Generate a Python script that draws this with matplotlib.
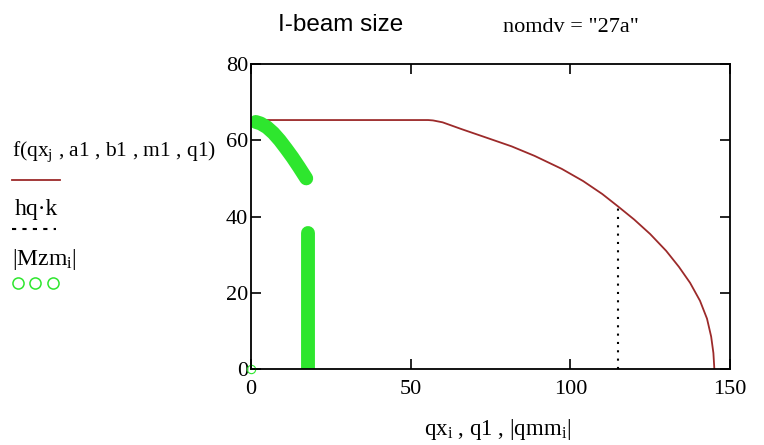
import numpy as np
import matplotlib
matplotlib.use("Agg")
import matplotlib.pyplot as plt

plt.rcParams['font.family'] = ['Liberation Serif', 'DejaVu Serif']
plt.rcParams['mathtext.fontset'] = 'custom'
plt.rcParams['mathtext.rm'] = 'Liberation Serif'
plt.rcParams['mathtext.it'] = 'Liberation Serif'

# f(qx_j, a1, b1, m1, q1) - red curve
f_x = [0, 20, 40, 50, 55.5, 57, 60, 63, 66, 74, 81.6, 88.8, 97.3, 104, 110, 115, 120,
       125, 130, 134, 137.5, 140.6, 142.8, 144.1, 144.8, 145.1]
f_y = [65.3, 65.3, 65.3, 65.3, 65.3, 65.2, 64.7, 63.8, 62.9, 60.6, 58.4, 55.9, 52.5,
       49.3, 45.9, 42.6, 39.2, 35.4, 31.0, 26.8, 22.6, 17.9, 13.2, 8.5, 4.2, 0.0]

# hq*k - dotted vertical
hq_x = [115, 115]
hq_y = [0, 42.6]

# |Mzm_i| vs |qmm_i| - green points
arc_q = [1.5, 3, 5, 7, 9, 11, 13, 15, 17.3]
arc_M = [64.8, 64.4, 63.4, 61.9, 60.0, 57.8, 55.5, 53.0, 50.0]
bar_q = [17.9, 17.9]
bar_M = [0.0, 35.6]
orig_q = [0]
orig_M = [0]

green = '#2ee62e'
red = '#9c2a2a'

fig = plt.figure(figsize=(7.64, 4.45), dpi=100)
ax = fig.add_axes([251/764, 1-369/445, 479/764, 305/445])

ax.plot(f_x, f_y, color=red, lw=1.3)
ax.plot(hq_x, hq_y, color='black', lw=1.5, ls=(0, (1, 3)))
ax.plot(arc_q, arc_M, color=green, lw=10, solid_capstyle='round', solid_joinstyle='round')
ax.plot(bar_q, bar_M, color=green, lw=10, solid_capstyle='round')
ax.plot(orig_q, orig_M, 'o', mfc='none', mec=green, ms=6, mew=0.8, clip_on=False)

ax.set_xlim(0, 150)
ax.set_ylim(0, 80)
ax.set_xticks([0, 50, 100, 150])
ax.set_yticks([0, 20, 40, 60, 80])
ax.tick_params(direction='in', length=7, width=1.2, top=True, right=True,
               labelsize=16, pad=2)
ax.tick_params(axis='x', pad=8)
for s in ax.spines.values():
    s.set_linewidth(1.3)

# overlay in pixel coordinates for texts and the legend
lg = fig.add_axes([0, 0, 1, 1], facecolor='none')
lg.set_xlim(0, 764)
lg.set_ylim(445, 0)
lg.axis('off')

lg.text(341, 25, 'I-beam size', family='Liberation Sans', fontsize=17.5, ha='center', va='center')
lg.text(503, 27, 'nomdv = "27a"', fontsize=16, ha='left', va='center')

lg.text(12, 152, r'f(qx$_\mathrm{j}$ , a1 , b1 , m1 , q1)', fontsize=15.5, ha='left', va='center')
lg.plot([12, 60], [180, 180], color=red, lw=1.3)
lg.text(15, 209, 'hq·k', fontsize=17, ha='left', va='center')
lg.plot([12, 56], [229, 229], color='black', lw=1.5, ls=(0, (2, 3)))
lg.text(12, 259, r'|Mzm$_\mathrm{i}$|', fontsize=17, ha='left', va='center')
lg.plot([18, 35, 53], [283, 283, 283], 'o', mfc='none', mec=green, ms=8, mew=1.1)

lg.text(497, 430, r'qx$_\mathrm{i}$ , q1 , |qmm$_\mathrm{i}$|', fontsize=16.5, ha='center', va='center')

fig.savefig('out.png', dpi=100)
